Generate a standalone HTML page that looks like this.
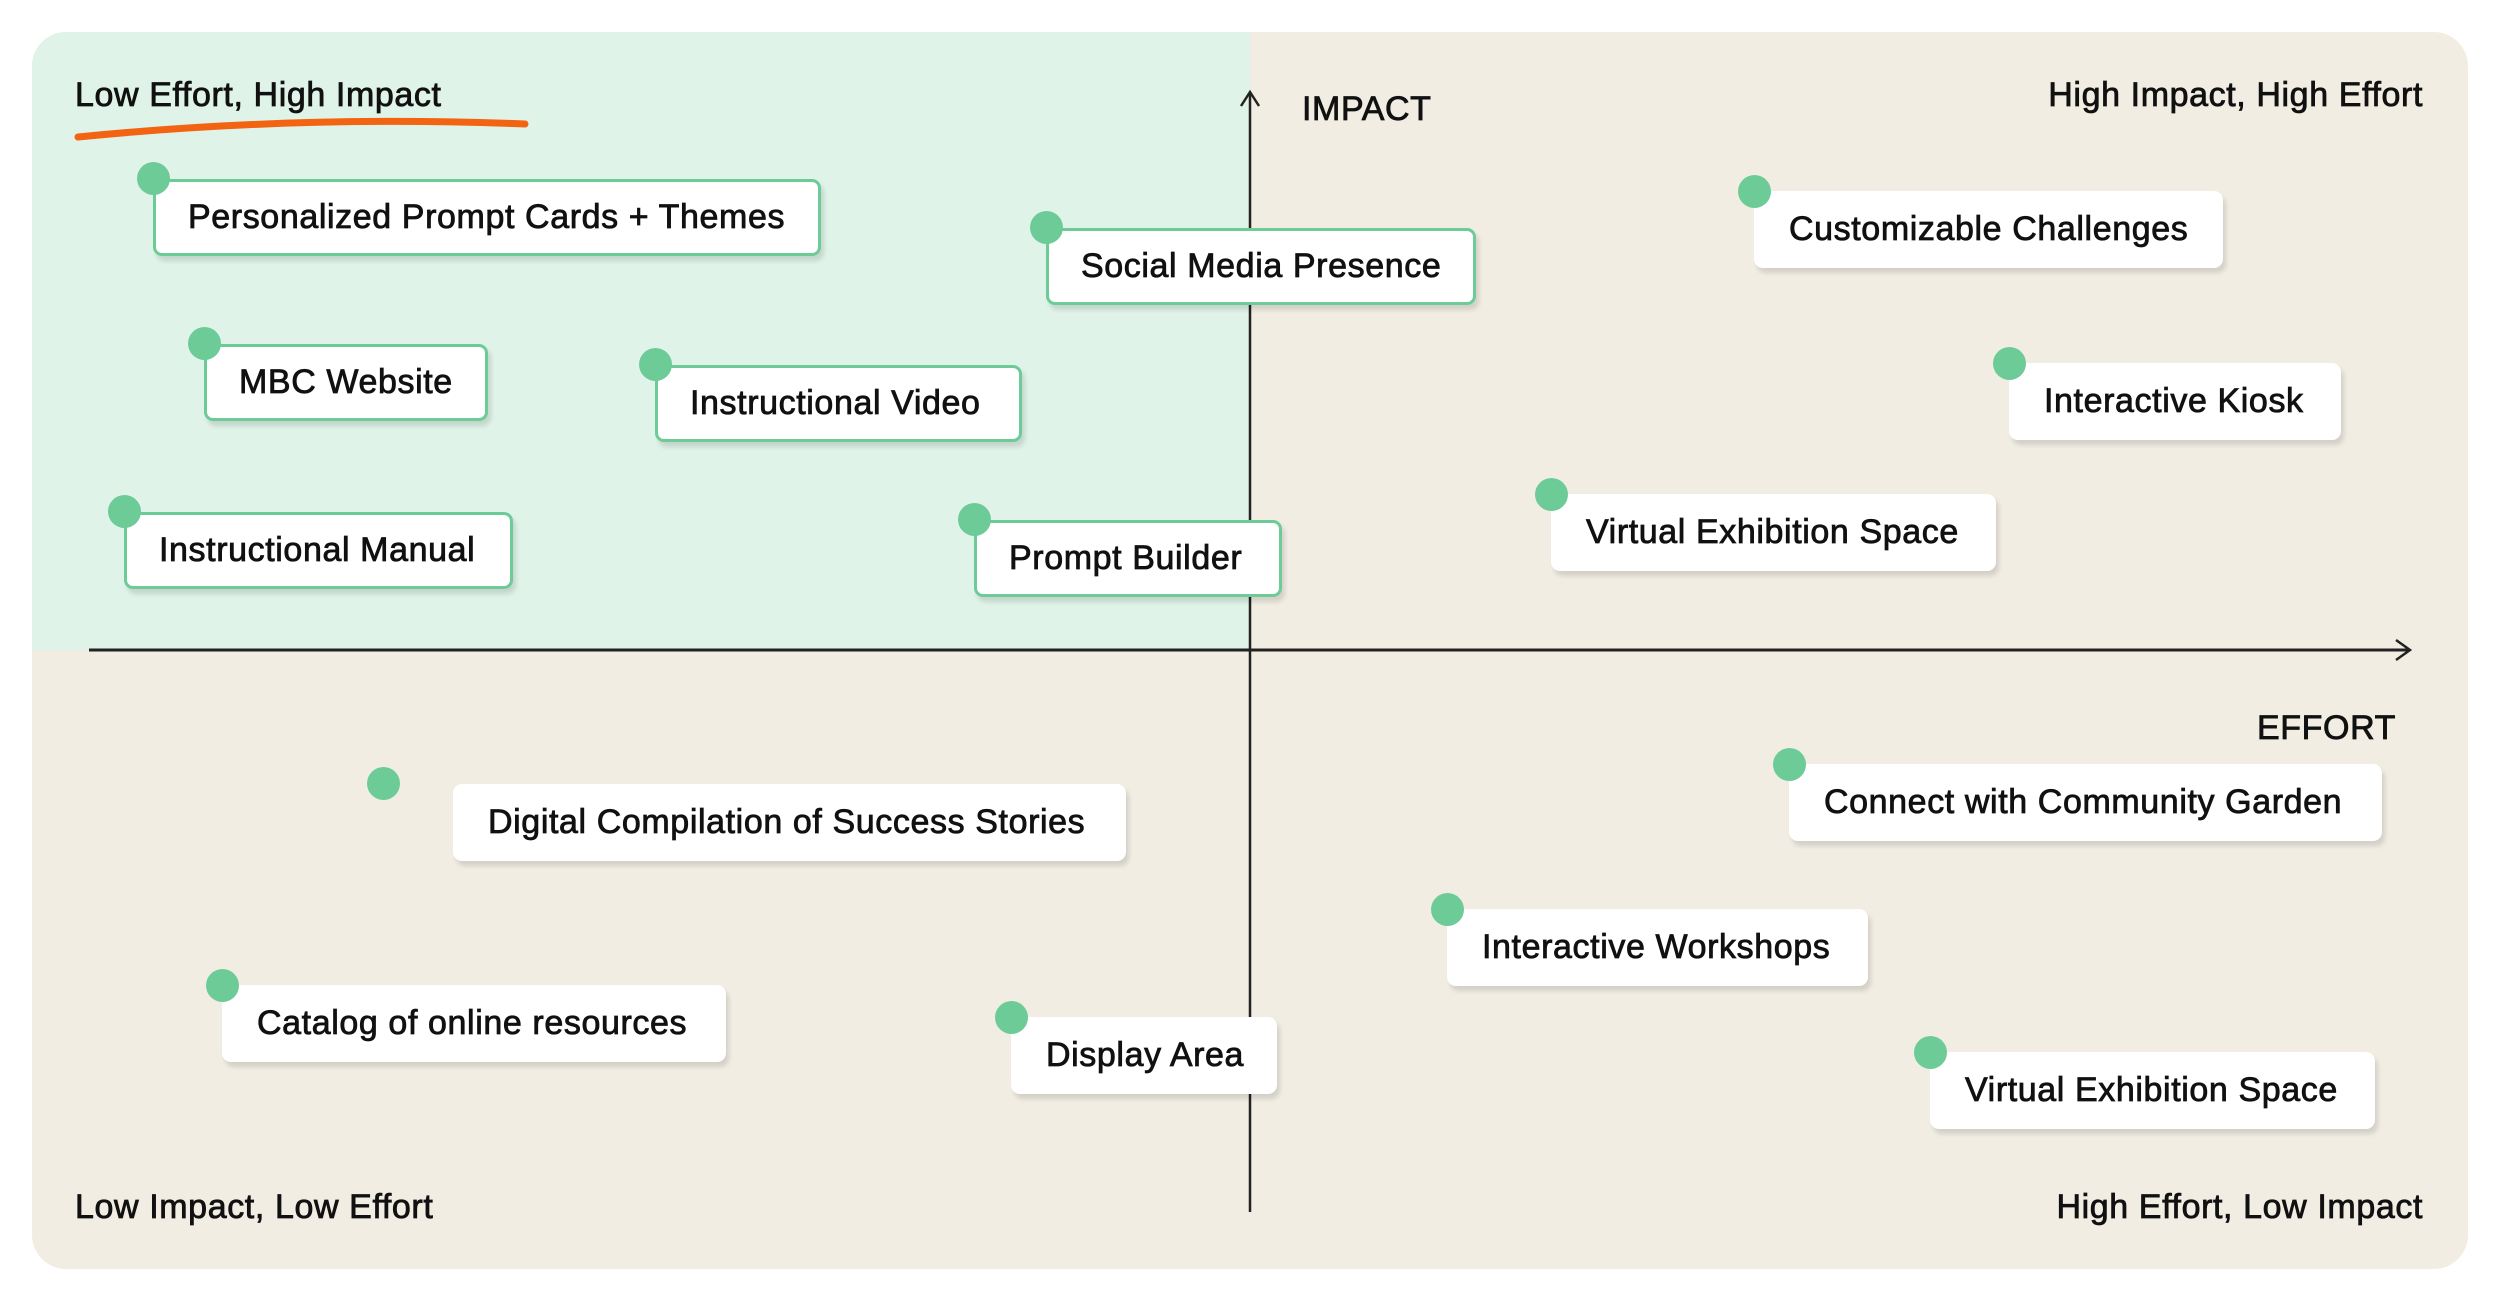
<!DOCTYPE html>
<html><head><meta charset="utf-8"><style>
body{margin:0;width:2500px;height:1304px;background:#fff;position:relative;overflow:hidden;font-family:"Liberation Sans",sans-serif;color:#111}
.bg{position:absolute;left:32px;top:32px;width:2436px;height:1237px;background:#f1ede3;border-radius:34px;overflow:hidden}
.q{position:absolute;left:0;top:0;width:1218px;height:618px;background:#e0f3e9}
.b{position:absolute;height:77px;box-sizing:border-box;background:#fff;border-radius:9px;font-size:34px;line-height:77px;padding-left:35px;white-space:nowrap;box-shadow:3px 5px 5px rgba(0,0,0,0.12);letter-spacing:0.6px;-webkit-text-stroke:0.8px #111}
.g{border:3px solid #6ccb97;line-height:71px;padding-left:32px}
.d{position:absolute;width:33px;height:33px;border-radius:50%;background:#6ccb97}
.t{position:absolute;font-size:34px;white-space:nowrap;letter-spacing:0.6px;-webkit-text-stroke:0.8px #111}
</style></head><body>
<div class="bg"><div class="q"></div></div>
<svg width="2500" height="1304" style="position:absolute;left:0;top:0">
<line x1="1250" y1="92" x2="1250" y2="1212" stroke="#222" stroke-width="2.5"/>
<polyline points="1241,106 1250,92 1259,106" fill="none" stroke="#222" stroke-width="2.5"/>
<line x1="89" y1="650" x2="2410" y2="650" stroke="#222" stroke-width="3"/>
<polyline points="2396,640 2410,650 2396,660" fill="none" stroke="#222" stroke-width="2.5"/>
<path d="M78,137 Q300,115 525,124" fill="none" stroke="#f26412" stroke-width="7" stroke-linecap="round"/>
</svg>
<div class="t" style="left:75px;top:76px">Low Effort, High Impact</div>
<div class="t" style="left:1302px;top:90px">IMPACT</div>
<div class="t" style="right:77px;top:76px">High Impact, High Effort</div>
<div class="t" style="right:104px;top:709px">EFFORT</div>
<div class="t" style="left:75px;top:1188px">Low Impact, Low Effort</div>
<div class="t" style="right:77px;top:1188px">High Effort, Low Impact</div>

<div class="b g" style="left:153px;top:179px;width:668px">Personalized Prompt Cards + Themes</div>
<div class="b g" style="left:1046px;top:228px;width:430px">Social Media Presence</div>
<div class="b g" style="left:204px;top:344px;width:284px">MBC Website</div>
<div class="b g" style="left:655px;top:365px;width:367px">Instructional Video</div>
<div class="b g" style="left:124px;top:512px;width:389px">Instructional Manual</div>
<div class="b g" style="left:974px;top:520px;width:308px">Prompt Builder</div>
<div class="b" style="left:1754px;top:191px;width:469px">Customizable Challenges</div>
<div class="b" style="left:2009px;top:363px;width:332px">Interactive Kiosk</div>
<div class="b" style="left:1551px;top:494px;width:445px">Virtual Exhibition Space</div>
<div class="b" style="left:453px;top:784px;width:673px">Digital Compilation of Success Stories</div>
<div class="b" style="left:222px;top:985px;width:504px">Catalog of online resources</div>
<div class="b" style="left:1011px;top:1017px;width:266px">Display Area</div>
<div class="b" style="left:1789px;top:764px;width:593px">Connect with Community Garden</div>
<div class="b" style="left:1447px;top:909px;width:421px">Interactive Workshops</div>
<div class="b" style="left:1930px;top:1052px;width:445px">Virtual Exhibition Space</div>

<div class="d" style="left:137px;top:162px"></div>
<div class="d" style="left:1030px;top:211px"></div>
<div class="d" style="left:188px;top:327px"></div>
<div class="d" style="left:639px;top:348px"></div>
<div class="d" style="left:108px;top:495px"></div>
<div class="d" style="left:958px;top:503px"></div>
<div class="d" style="left:1738px;top:175px"></div>
<div class="d" style="left:1993px;top:347px"></div>
<div class="d" style="left:1535px;top:478px"></div>
<div class="d" style="left:367px;top:767px"></div>
<div class="d" style="left:206px;top:969px"></div>
<div class="d" style="left:995px;top:1001px"></div>
<div class="d" style="left:1773px;top:748px"></div>
<div class="d" style="left:1431px;top:893px"></div>
<div class="d" style="left:1914px;top:1036px"></div>
</body></html>
